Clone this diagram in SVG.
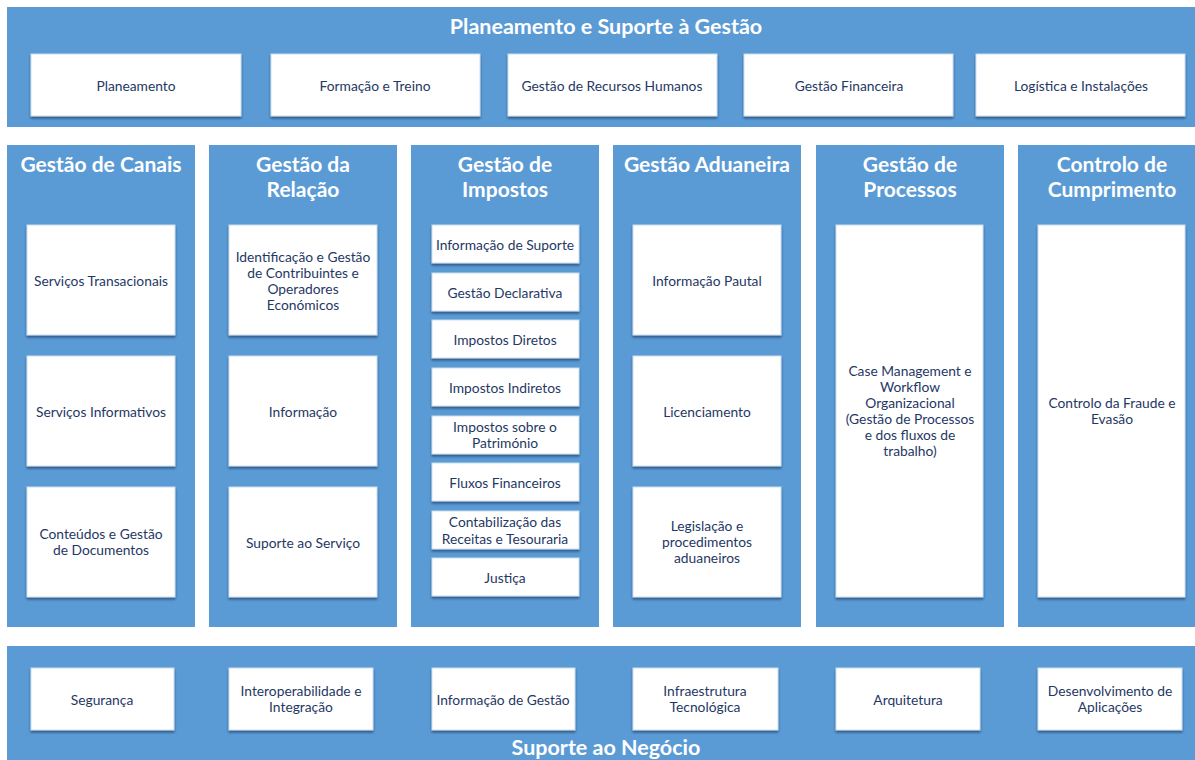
<svg xmlns="http://www.w3.org/2000/svg" width="1195" height="760" viewBox="0 0 1195 760">
<defs>
<filter id="sh" x="-5%" y="-10%" width="110%" height="130%">
<feDropShadow dx="0" dy="2" stdDeviation="0.8" flood-color="#1F3864" flood-opacity="0.7"/>
</filter>
<style>
.band{fill:#5B9BD5}
.box{fill:#FFFFFF;stroke:#C9DDF0;stroke-width:1;filter:url(#sh)}
.t{font-family:Lato,"Liberation Sans",sans-serif;font-size:13.8px;fill:#1F3864;text-anchor:middle;dominant-baseline:central}
.h{font-family:Lato,"Liberation Sans",sans-serif;font-size:21px;font-weight:bold;fill:#FFFFFF;text-anchor:middle}
.hb{font-size:21.5px}
</style>
</defs>
<rect width="1195" height="760" fill="#FFFFFF"/>

<g id="planeamento-suporte">
<rect class="band" x="7" y="7" width="1188" height="120"/>
<text class="h hb" x="606" y="34">Planeamento e Suporte à Gestão</text>
</g>
<g id="planeamento"><rect class="box" x="31" y="54" width="210" height="62"/><text class="t" x="136" y="85">Planeamento</text></g>
<g id="formacao"><rect class="box" x="271" y="54" width="209" height="62"/><text class="t" x="375" y="85">Formação e Treino</text></g>
<g id="rh"><rect class="box" x="508" y="54" width="209" height="62"/><text class="t" x="612" y="85">Gestão de Recursos Humanos</text></g>
<g id="financeira"><rect class="box" x="744" y="54" width="209" height="62"/><text class="t" x="849" y="85">Gestão Financeira</text></g>
<g id="logistica"><rect class="box" x="976" y="54" width="209" height="62"/><text class="t" x="1081" y="85">Logística e Instalações</text></g>

<g id="col-canais">
<rect class="band" x="7" y="145" width="188" height="482"/>
<text class="h" x="101" y="172">Gestão de Canais</text>
</g>
<g id="servicos-transacionais"><rect class="box" x="27" y="225" width="148" height="110"/><text class="t" x="101" y="280">Serviços Transacionais</text></g>
<g id="servicos-informativos"><rect class="box" x="27" y="356" width="148" height="110"/><text class="t" x="101" y="411">Serviços Informativos</text></g>
<g id="conteudos"><rect class="box" x="27" y="487" width="148" height="110"/><text class="t" x="101" y="533">Conteúdos e Gestão</text><text class="t" x="101" y="549">de Documentos</text></g>

<g id="col-relacao">
<rect class="band" x="209" y="145" width="188" height="482"/>
<text class="h" x="303" y="172">Gestão da</text>
<text class="h" x="303" y="197">Relação</text>
</g>
<g id="identificacao"><rect class="box" x="229" y="225" width="148" height="110"/><text class="t" x="303" y="256">Identificação e Gestão</text><text class="t" x="303" y="272">de Contribuintes e</text><text class="t" x="303" y="288">Operadores</text><text class="t" x="303" y="304">Económicos</text></g>
<g id="informacao"><rect class="box" x="229" y="356" width="148" height="110"/><text class="t" x="303" y="411">Informação</text></g>
<g id="suporte-servico"><rect class="box" x="229" y="487" width="148" height="110"/><text class="t" x="303" y="542">Suporte ao Serviço</text></g>

<g id="col-impostos">
<rect class="band" x="411" y="145" width="188" height="482"/>
<text class="h" x="505" y="172">Gestão de</text>
<text class="h" x="505" y="197">Impostos</text>
</g>
<g id="info-suporte"><rect class="box" x="432" y="225" width="147" height="38"/><text class="t" x="505" y="244">Informação de Suporte</text></g>
<g id="gestao-declarativa"><rect class="box" x="432" y="273" width="147" height="38"/><text class="t" x="505" y="292">Gestão Declarativa</text></g>
<g id="impostos-diretos"><rect class="box" x="432" y="320" width="147" height="38"/><text class="t" x="505" y="339">Impostos Diretos</text></g>
<g id="impostos-indiretos"><rect class="box" x="432" y="368" width="147" height="38"/><text class="t" x="505" y="387">Impostos Indiretos</text></g>
<g id="impostos-patrimonio"><rect class="box" x="432" y="416" width="147" height="38"/><text class="t" x="505" y="426">Impostos sobre o</text><text class="t" x="505" y="442">Património</text></g>
<g id="fluxos"><rect class="box" x="432" y="463" width="147" height="38"/><text class="t" x="505" y="482">Fluxos Financeiros</text></g>
<g id="contabilizacao"><rect class="box" x="432" y="511" width="147" height="38"/><text class="t" x="505" y="521">Contabilização das</text><text class="t" x="505" y="538">Receitas e Tesouraria</text></g>
<g id="justica"><rect class="box" x="432" y="558" width="147" height="38"/><text class="t" x="505" y="577">Justiça</text></g>

<g id="col-aduaneira">
<rect class="band" x="613" y="145" width="188" height="482"/>
<text class="h" x="707" y="172">Gestão Aduaneira</text>
</g>
<g id="pautal"><rect class="box" x="633" y="225" width="148" height="110"/><text class="t" x="707" y="280">Informação Pautal</text></g>
<g id="licenciamento"><rect class="box" x="633" y="356" width="148" height="110"/><text class="t" x="707" y="411">Licenciamento</text></g>
<g id="legislacao"><rect class="box" x="633" y="487" width="148" height="110"/><text class="t" x="707" y="525">Legislação e</text><text class="t" x="707" y="541">procedimentos</text><text class="t" x="707" y="557">aduaneiros</text></g>

<g id="col-processos">
<rect class="band" x="816" y="145" width="188" height="482"/>
<text class="h" x="910" y="172">Gestão de</text>
<text class="h" x="910" y="197">Processos</text>
</g>
<g id="case-management"><rect class="box" x="836" y="225" width="147" height="372"/><text class="t" x="910" y="370">Case Management e</text><text class="t" x="910" y="386">Workflow</text><text class="t" x="910" y="402">Organizacional</text><text class="t" x="910" y="418">(Gestão de Processos</text><text class="t" x="910" y="434">e dos fluxos de</text><text class="t" x="910" y="450">trabalho)</text></g>

<g id="col-cumprimento">
<rect class="band" x="1018" y="145" width="188" height="482"/>
<text class="h" x="1112" y="172">Controlo de</text>
<text class="h" x="1112" y="197">Cumprimento</text>
</g>
<g id="fraude"><rect class="box" x="1038" y="225" width="147" height="372"/><text class="t" x="1112" y="402">Controlo da Fraude e</text><text class="t" x="1112" y="418">Evasão</text></g>

<g id="suporte-negocio">
<rect class="band" x="7" y="646" width="1188" height="114"/>
<text class="h hb" x="606" y="755">Suporte ao Negócio</text>
</g>
<g id="seguranca"><rect class="box" x="31" y="668" width="143" height="62"/><text class="t" x="102" y="699">Segurança</text></g>
<g id="interoperabilidade"><rect class="box" x="229" y="668" width="144" height="62"/><text class="t" x="301" y="690">Interoperabilidade e</text><text class="t" x="301" y="706">Integração</text></g>
<g id="info-gestao"><rect class="box" x="432" y="668" width="143" height="62"/><text class="t" x="503" y="699">Informação de Gestão</text></g>
<g id="infraestrutura"><rect class="box" x="633" y="668" width="145" height="62"/><text class="t" x="705" y="690">Infraestrutura</text><text class="t" x="705" y="706">Tecnológica</text></g>
<g id="arquitetura"><rect class="box" x="836" y="668" width="144" height="62"/><text class="t" x="908" y="699">Arquitetura</text></g>
<g id="desenvolvimento"><rect class="box" x="1038" y="668" width="144" height="62"/><text class="t" x="1110" y="690">Desenvolvimento de</text><text class="t" x="1110" y="706">Aplicações</text></g>

<g id="connectors"/>
</svg>
